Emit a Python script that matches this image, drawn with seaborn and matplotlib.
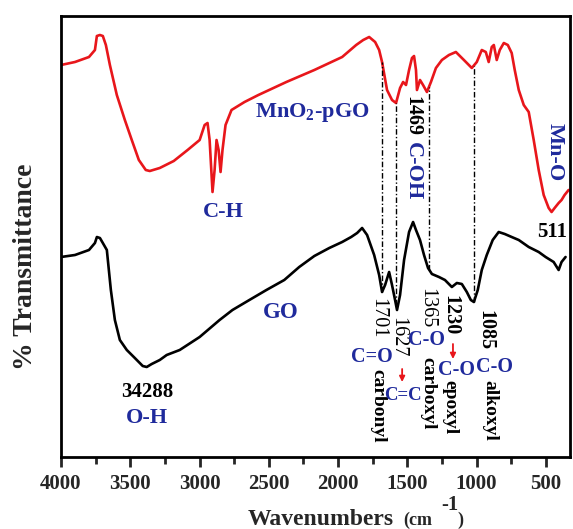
import numpy as np
import pandas as pd
import matplotlib
matplotlib.use("Agg")
import matplotlib.pyplot as plt
import seaborn as sns

# ---- data ----
mno2_wn = [4000, 3899, 3798, 3755, 3741, 3719, 3698, 3676, 3647, 3597, 3539, 3489, 3438,
           3388, 3359, 3287, 3186, 3086, 2999, 2963, 2942, 2927, 2906, 2891, 2877, 2862,
           2848, 2834, 2812, 2769, 2675, 2575, 2373, 2171, 1970, 1869, 1818, 1775, 1732,
           1703, 1682, 1646, 1610, 1581, 1552, 1530, 1509, 1487, 1466, 1451, 1437, 1430,
           1408, 1386, 1358, 1329, 1293, 1250, 1199, 1149, 1091, 1034, 998, 962, 933, 912,
           890, 875, 854, 832, 803, 774, 746, 724, 695, 659, 623, 587, 551, 515, 479, 458,
           436, 407, 386, 364, 335]
mno2_t = [392, 395, 400, 407, 421, 422, 421, 412, 392, 362, 337, 317, 297,
          287, 286, 289, 296, 307, 317, 332, 334, 317, 265, 287, 317, 307,
          285, 307, 332, 347, 355, 362, 375, 387, 400, 412, 417, 420, 415,
          407, 395, 367, 357, 354, 369, 375, 372, 387, 399, 401, 387, 367,
          377, 372, 365, 375, 389, 397, 402, 405, 397, 389, 395, 407, 405, 395,
          410, 412, 397, 407, 414, 412, 404, 387, 367, 352, 345, 317, 287, 262, 249, 245,
          249, 254, 257, 262, 267]

go_wn = [4000, 3899, 3798, 3755, 3741, 3719, 3698, 3669, 3640, 3611, 3575, 3525, 3467,
         3410, 3381, 3345, 3287, 3237, 3143, 2999, 2855, 2762, 2640, 2517, 2388, 2280,
         2171, 2063, 1970, 1905, 1862, 1826, 1790, 1739, 1703, 1682, 1660, 1631, 1610,
         1588, 1574, 1552, 1523, 1487, 1458, 1437, 1408, 1379, 1350, 1322, 1271, 1228,
         1178, 1142, 1106, 1070, 1041, 1019, 991, 962, 926, 883, 840, 796, 746, 695,
         623, 551, 501, 443, 407, 386, 357]
go_t = [200, 202, 207, 214, 220, 219, 214, 207, 167, 137, 117, 107, 99,
        91, 90, 93, 97, 102, 107, 120, 137, 147, 157, 167, 177, 190,
        201, 209, 215, 220, 224, 229, 222, 202, 182, 165, 172, 185, 172,
        157, 147, 162, 197, 225, 235, 227, 217, 202, 189, 183, 180, 177,
        170, 174, 173, 165, 157, 155, 167, 187, 202, 217, 225, 223, 220, 217,
        210, 205, 200, 195, 187, 195, 200]

# positions of the guide lines (as drawn in the figure)
guide_wn = [1682, 1581, 1343, 1019]

df = pd.concat([
    pd.DataFrame({"wn": mno2_wn, "T": mno2_t, "sample": "MnO2-pGO"}),
    pd.DataFrame({"wn": go_wn, "T": go_t, "sample": "GO"}),
])

sns.set_style("white")
plt.rcParams["font.family"] = ["Liberation Serif", "DejaVu Serif"]
plt.rcParams["font.weight"] = "bold"
plt.rcParams["mathtext.fontset"] = "custom"
plt.rcParams["mathtext.rm"] = "Liberation Serif:bold"
plt.rcParams["mathtext.bf"] = "Liberation Serif:bold"

W, H = 573, 529
fig = plt.figure(figsize=(W / 100, H / 100), dpi=100)
ax = fig.add_axes([61 / W, (H - 457) / H, 509 / W, 441 / H])

sns.lineplot(data=df, x="wn", y="T", hue="sample", estimator=None, sort=False,
             palette={"MnO2-pGO": "#e8161b", "GO": "#000000"},
             linewidth=1.9, legend=False, ax=ax)

ax.set_xlim(4000, 325)
ax.set_ylim(0, 441)

# dash-dot guide lines between the two spectra
for w in guide_wn:
    lo = np.interp(w, go_wn[::-1], go_t[::-1])
    hi = np.interp(w, mno2_wn[::-1], mno2_t[::-1])
    ax.plot([w, w], [lo, hi], color="black", lw=1.0,
            linestyle=(0, (4, 1.6, 1, 1.6)))

# axes styling
for s in ax.spines.values():
    s.set_linewidth(2.0)
    s.set_color("black")
ax.set_yticks([])
ax.set_xticks([4000, 3500, 3000, 2500, 2000, 1500, 1000, 500])
ax.set_xticks([3750, 3250, 2750, 2250, 1750, 1250, 750], minor=True)
ax.tick_params(axis="x", which="major", direction="out", length=7, width=2,
               labelsize=15, pad=5, bottom=True)
ax.tick_params(axis="x", which="minor", direction="out", length=5, width=2, bottom=True)
for lbl in ax.get_xticklabels():
    lbl.set_fontweight("bold")

ax.set_xlabel("")
ax.set_ylabel("% Transmittance", fontsize=20, fontweight="bold")
ax.yaxis.set_label_coords(-0.045, 0.431)

# x-axis title in pieces (smaller unit part, large superscript)
fig.text(248 / W, (H - 525) / H, "Wavenumbers", fontsize=17, fontweight="bold",
         ha="left", va="baseline")
fig.text(403 / W, (H - 525) / H, "(cm", fontsize=13, fontweight="bold",
         ha="left", va="baseline")
fig.text(441 / W, (H - 510) / H, "-1", fontsize=15, fontweight="bold",
         ha="left", va="baseline")
fig.text(457 / W, (H - 525) / H, ")", fontsize=13, fontweight="bold",
         ha="left", va="baseline")

blue = "#1f2a9c"
kw = dict(ha="center", va="center")

ax.text(2829, 245, "C-H", color=blue, fontsize=16, fontweight="bold", **kw)
ax.text(2186, 344, r"MnO$_\mathbf{2}$-pGO", color=blue, fontsize=16, fontweight="bold", **kw)
ax.text(1460, 341, "1469", color="black", fontsize=14.5, fontweight="bold", rotation=270, **kw)
ax.text(1460, 286, "C-OH", color=blue, fontsize=16, fontweight="bold", rotation=270, **kw)
ax.text(434, 305, "Mn-O", color=blue, fontsize=16, fontweight="bold", rotation=270, **kw)
ax.text(455, 225, "511", color="black", fontsize=15, fontweight="bold", **kw)
ax.text(2417, 144, "GO", color=blue, fontsize=16.5, fontweight="bold", **kw)
ax.text(3377, 65, "34288", color="black", fontsize=15, fontweight="bold", **kw)
ax.text(3377, 39, "O-H", color=blue, fontsize=16, fontweight="bold", **kw)

ax.text(1711, 139, "1701", color="black", fontsize=14.5, fontweight="normal", rotation=270, **kw)
ax.text(1711, 51, "carbonyl", color="black", fontsize=14, fontweight="bold", rotation=270, **kw)
ax.text(1754, 100, "C=O", color=blue, fontsize=14.5, fontweight="bold", **kw)

ax.text(1566, 120, "1627", color="black", fontsize=14.5, fontweight="normal", rotation=270, **kw)
ax.text(1532, 62, "C=C", color=blue, fontsize=13.5, fontweight="bold", **kw)

ax.text(1357, 149, "1365", color="black", fontsize=14.5, fontweight="normal", rotation=270, **kw)
ax.text(1364, 117, "C-O", color=blue, fontsize=14.5, fontweight="bold", **kw)
ax.text(1350, 64, "carboxyl", color="black", fontsize=14, fontweight="bold", rotation=270, **kw)

ax.text(1192, 142, "1230", color="black", fontsize=14.5, fontweight="bold", rotation=270, **kw)
ax.text(1141, 87, "C-O", color=blue, fontsize=14.5, fontweight="bold", **kw)
ax.text(1192, 50, "epoxyl", color="black", fontsize=14, fontweight="bold", rotation=270, **kw)

ax.text(938, 127, "1085", color="black", fontsize=14.5, fontweight="bold", rotation=270, **kw)
ax.text(873, 90, "C-O", color=blue, fontsize=14.5, fontweight="bold", **kw)
ax.text(905, 47, "alkoxyl", color="black", fontsize=14, fontweight="bold", rotation=270, **kw)

arrow = dict(arrowstyle="-|>", color="#e8161b", lw=1.3, mutation_scale=8,
             shrinkA=0, shrinkB=0)
ax.annotate("", xy=(1537, 75), xytext=(1537, 88), arrowprops=arrow)
ax.annotate("", xy=(1170, 98), xytext=(1170, 113), arrowprops=arrow)

fig.savefig("out.png", dpi=100)
